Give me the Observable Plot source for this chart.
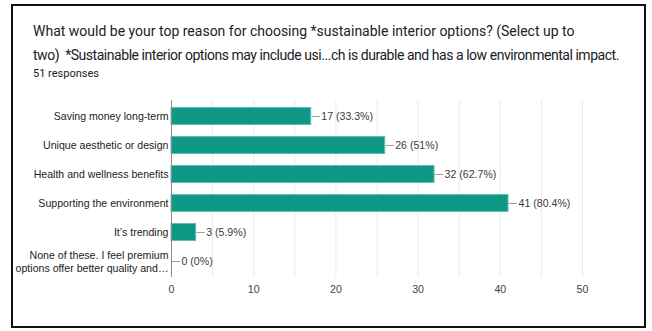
<!DOCTYPE html>
<html>
<head>
<meta charset="utf-8">
<script src="https://cdn.jsdelivr.net/npm/d3@7"></script>
<script src="https://cdn.jsdelivr.net/npm/@observablehq/plot@0.6"></script>
<style>
  html, body { margin: 0; padding: 0; background: #fff; }
  #card { position: relative; width: 652px; height: 331px; overflow: hidden; }
  #frame { position: absolute; left: 11px; top: 4px; width: 631px; height: 320px; border: 2px solid #111; box-sizing: content-box; pointer-events: none; }
  #title { position: absolute; left: 33px; top: 19px; width: 610px; font-family: Roboto, "Noto Sans", sans-serif; font-size: 14px; line-height: 24px; color: #202124; white-space: nowrap; }
  #title .l2 { letter-spacing: -0.46px; }
  #subtitle { position: absolute; left: 33px; top: 67px; font-family: Roboto, "Noto Sans", sans-serif; font-size: 11px; color: #202124; }
  #chart { position: absolute; left: 0; top: 0; }
</style>
</head>
<body>
<div id="card">
  <div id="title"><span>What would be your top reason for choosing *sustainable interior options? (Select up to</span><br><span class="l2">two)&nbsp; *Sustainable interior options may include usi...ch is durable and has a low environmental impact.</span></div>
  <div id="subtitle">51 responses</div>
  <div id="chart"></div>
  <div id="frame"></div>
</div>
<script>
// Answer options, in the order they appear on the form
const reasons = [
  "Saving money long-term",
  "Unique aesthetic or design",
  "Health and wellness benefits",
  "Supporting the environment",
  "It\u2019s trending",
  "None of these. I feel premium\noptions offer better quality and\u2026"
];
// Number of respondents choosing each option
const counts = [17, 26, 32, 41, 3, 0];
// Share of the 51 respondents, as printed beside each bar
const percents = ["33.3%", "51%", "62.7%", "80.4%", "5.9%", "0%"];
const xTicks = [0, 10, 20, 30, 40, 50];
const gridTicks = [5, 10, 15, 20, 25, 30, 35, 40, 45, 50];

const rows = reasons.map((reason, i) => ({
  reason,
  count: counts[i],
  label: `${counts[i]} (${percents[i]})`
}));

const labelFont = "Liberation Sans, Arial, sans-serif";

// short grey leader line from the end of each bar towards its value label
function leaders(index, scales) {
  const g = d3.create("svg:g").attr("stroke", "#9e9e9e").attr("stroke-width", 1);
  const bw = scales.y.bandwidth ? scales.y.bandwidth() : 0;
  for (const d of rows) {
    const x0 = scales.x(d.count);
    const yc = Math.round(scales.y(d.reason) + bw / 2) + 0.5;
    g.append("line")
      .attr("x1", x0 + 1).attr("x2", x0 + 9)
      .attr("y1", yc).attr("y2", yc);
  }
  return g.node();
}

const chart = Plot.plot({
  width: 652,
  height: 331,
  marginLeft: 171,
  marginRight: 70,
  marginTop: 100,
  marginBottom: 54,
  style: { fontFamily: labelFont, fontSize: "11px", background: "transparent" },
  x: { domain: [0, 50], axis: null },
  y: { domain: reasons, paddingInner: 0.37, paddingOuter: 0.185, axis: null },
  marks: [
    Plot.ruleX(gridTicks, { stroke: "#ebebeb", strokeWidth: 1 }),
    Plot.barX(rows, {
      y: "reason", x: "count",
      fill: "#0f9885", stroke: "#5dbfb1", strokeWidth: 1, insetTop: 0.5, insetBottom: 0.5
    }),
    leaders,
    Plot.text(rows, {
      y: "reason", x: "count", text: "label",
      dx: 10, textAnchor: "start", fill: "#3c3c3c", fontSize: 10.6
    }),
    Plot.ruleX([0], { stroke: "#8c8c8c", strokeWidth: 1 }),
    Plot.axisY({
      tickSize: 0, tickPadding: 3, label: null,
      fill: "#222", fontSize: 10.6, lineHeight: 1.15
    }),
    Plot.axisX(xTicks, {
      tickSize: 0, tickPadding: 8, label: null,
      fill: "#444", fontSize: 10.6
    })
  ]
});

document.getElementById("chart").appendChild(chart);
</script>
</body>
</html>
